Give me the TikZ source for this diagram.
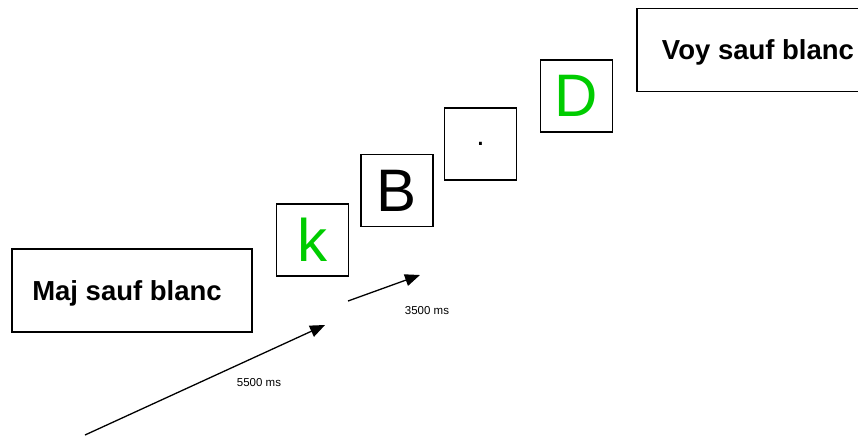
\documentclass[tikz,border=0pt]{standalone}
\usepackage{fontspec}
\setmainfont{Liberation Sans}
\usetikzlibrary{arrows.meta}
\definecolor{letgreen}{RGB}{0,204,0}
\tikzset{
  rulebox/.style={draw, line width=1.3pt, minimum width=240pt, minimum height=83pt, text depth=0pt,
    font=\fontsize{27.5}{30}\selectfont\bfseries},
  letbox/.style={draw, line width=1.3pt, minimum size=72pt, inner sep=0pt,
    font=\fontsize{60}{60}\selectfont},
  timearrow/.style={line width=1.3pt, -{Triangle[length=15pt,width=12pt]}},
  timelabel/.style={font=\fontsize{11.5}{12}\selectfont}
}
\begin{document}
\begin{tikzpicture}[x=1pt,y=-1pt]
  \useasboundingbox (0,0) rectangle (858,437);
  \node [rulebox] (maj) at (132,290.5) {Maj sauf blanc\kern10pt};
  \node [rulebox, minimum width=242pt] (voy) at (758,50) {Voy sauf blanc};
  \foreach \x/\y/\l/\c [count=\i] in {312.5/240/k/letgreen, 397/190.5/B/black,
    480.5/144/{\fontsize{30}{30}\selectfont .}/black, 576.5/96/D/letgreen}
  {
    \node [letbox, text=\c] (let\i) at (\x,\y) {\l};
  }
  \coordinate (a0) at (85,435);
  \coordinate (a1) at (325,325);
  \coordinate (b0) at (348,301);
  \coordinate (b1) at (420,275);
  \draw [timearrow] (a0) -- (a1);
  \draw [timearrow] (b0) -- (b1);
  \node [timelabel] (t5500) at (259,383) {5500 ms};
  \node [timelabel] (t3500) at (427,311) {3500 ms};
\end{tikzpicture}
\end{document}
